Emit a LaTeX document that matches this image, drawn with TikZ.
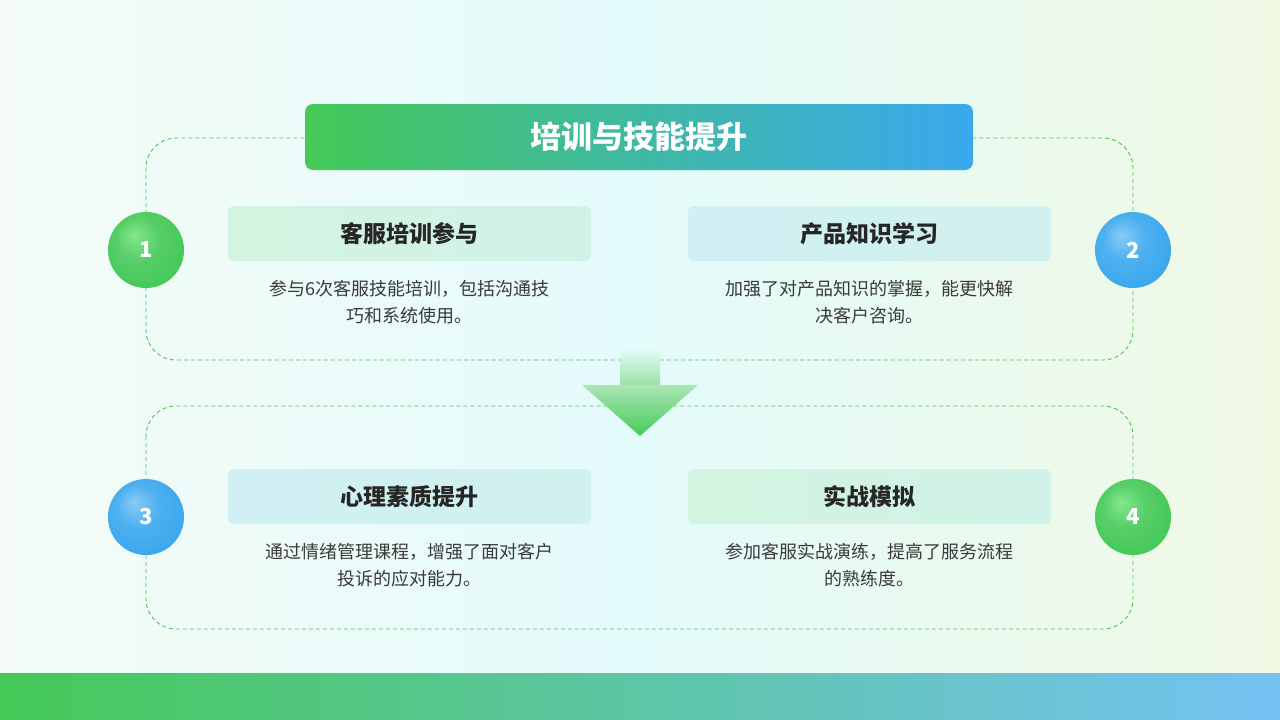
\documentclass[tikz,border=0pt]{standalone}
\usepackage{fontspec}
\setmainfont{Noto Sans CJK SC}
\usetikzlibrary{shadings}
\definecolor{gA}{HTML}{45C958}
\definecolor{bA}{HTML}{3AA8EE}
\definecolor{dash}{HTML}{4CC45E}
\definecolor{tx}{HTML}{262626}
\definecolor{bt}{HTML}{3A3A3A}
\definecolor{cg}{HTML}{D2F4E0}
\definecolor{cc}{HTML}{D0F0F4}
\definecolor{bgl}{HTML}{F4FBF7}
\definecolor{bgm}{HTML}{E4FBFB}
\definecolor{bgr}{HTML}{F0F9E4}
\pgfdeclareradialshading{gball}{\pgfpoint{-8pt}{10pt}}{color(0pt)=(green!30!gA!60!white);color(14pt)=(gA!90!white);color(30pt)=(gA);color(50pt)=(gA!90!black)}
\pgfdeclareradialshading{bball}{\pgfpoint{-8pt}{10pt}}{color(0pt)=(bA!60!white);color(14pt)=(bA!90!white);color(30pt)=(bA);color(50pt)=(bA!90!black)}
\tikzset{
 frame/.style={draw=dash,dashed,line width=0.9pt,rounded corners=30pt,dash pattern=on 4pt off 3pt},
 card/.style={rounded corners=6pt},
 head/.style={font=\bfseries\fontsize{23}{26}\selectfont,text=tx},
 body/.style={font=\fontsize{18}{27}\selectfont,text=bt,align=center},
 num/.style={circle,minimum size=76pt,inner sep=0pt,text=white,font=\bfseries\fontsize{22}{24}\selectfont},
}
\begin{document}
\begin{tikzpicture}[x=1pt,y=-1pt]
\useasboundingbox (0,0) rectangle (1280,720);
\shade[left color=bgl,right color=bgr,middle color=bgm] (0,0) rectangle (1280,720);
\shade[left color=gA,right color=bA!70] (0,673) rectangle (1280,720);
\draw[frame] (146,138) rectangle (1133,360);
\draw[frame] (146,406) rectangle (1133,629);
% title
\shade[rounded corners=8pt,left color=gA,right color=bA] (305,104) rectangle (973,170);
\node[font=\bfseries\fontsize{31}{34}\selectfont,text=white] (t) at (639,137) {培训与技能提升};
% cards
\shade[card,left color=cg,right color=cg!60!cc] (228,206) rectangle (591,261);
\shade[card,left color=cc,right color=cc!70!cg] (688,206) rectangle (1051,261);
\shade[card,left color=cc,right color=cc!70!cg] (228,469) rectangle (591,524);
\shade[card,left color=cg,right color=cg!60!cc] (688,469) rectangle (1051,524);
\node[head] (h1) at (409.5,234) {客服培训参与};
\node[head] (h2) at (869.5,234) {产品知识学习};
\node[head] (h3) at (409.5,497) {心理素质提升};
\node[head] (h4) at (869.5,497) {实战模拟};
\node[body] (b1) at (409.5,302) {参与6次客服技能培训，包括沟通技\\巧和系统使用。};
\node[body] (b2) at (869.5,302) {加强了对产品知识的掌握，能更快解\\决客户咨询。};
\node[body] (b3) at (409.5,565) {通过情绪管理课程，增强了面对客户\\投诉的应对能力。};
\node[body] (b4) at (869.5,565) {参加客服实战演练，提高了服务流程\\的熟练度。};
% circles
\node[num,shading=gball] (n1) at (146,250) {1};
\node[num,shading=bball] (n2) at (1133,250) {2};
\node[num,shading=bball] (n3) at (146,517) {3};
\node[num,shading=gball] (n4) at (1133,517) {4};
% arrow
\shade[top color=bgm,bottom color=gA!55!white] (620,348) rectangle (660,386);
\shade[top color=gA!45!white,bottom color=gA] (582,385) -- (698,385) -- (640,436) -- cycle;
\end{tikzpicture}
\end{document}
